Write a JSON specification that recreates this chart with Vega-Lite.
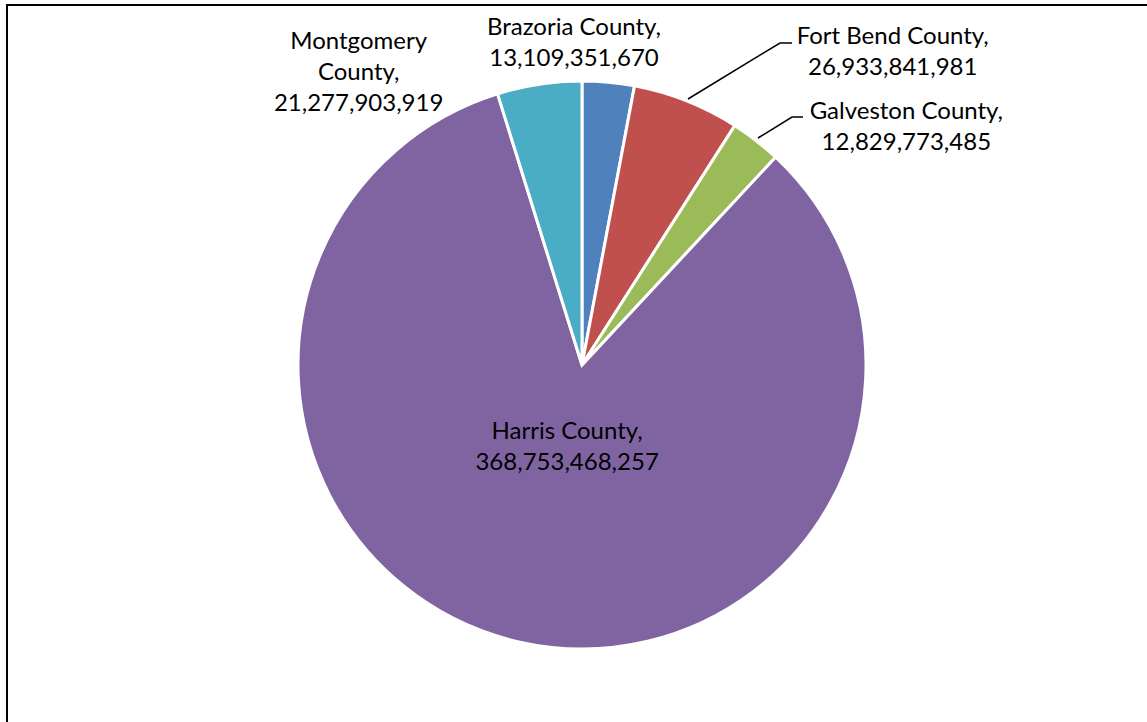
{
  "$schema": "https://vega.github.io/schema/vega-lite/v6.json",
  "width": 1150,
  "height": 720,
  "autosize": {"type": "none"},
  "padding": {"left": 7, "top": 5, "right": -10, "bottom": -3},
  "background": "white",
  "view": {"stroke": "black", "strokeWidth": 2, "fill": null},
  "config": {
    "view": {"stroke": "black", "strokeWidth": 2},
    "text": {"font": "Lato", "fontSize": 24, "lineHeight": 31, "align": "center", "baseline": "middle", "fill": "black"}
  },
  "data": {
    "values": [
      {"county": "Brazoria County", "value": 13109351670, "label": ["Brazoria County,", "13,109,351,670"]},
      {"county": "Fort Bend County", "value": 26933841981, "label": ["Fort Bend County,", "26,933,841,981"]},
      {"county": "Galveston County", "value": 12829773485, "label": ["Galveston County,", "12,829,773,485"]},
      {"county": "Harris County", "value": 368753468257, "label": ["Harris County,", "368,753,468,257"]},
      {"county": "Montgomery County", "value": 21277903919, "label": ["Montgomery", "County,", "21,277,903,919"]}
    ]
  },
  "encoding": {
    "theta": {"field": "value", "type": "quantitative", "stack": true},
    "detail": {"field": "county", "type": "nominal"}
  },
  "layer": [
    {
      "mark": {"type": "arc", "outerRadius": 284, "stroke": "white", "strokeWidth": 3},
      "encoding": {
        "color": {
          "field": "county",
          "type": "nominal",
          "scale": {
            "domain": ["Brazoria County", "Fort Bend County", "Galveston County", "Harris County", "Montgomery County"],
            "range": ["#4F81BD", "#C0504D", "#9BBB59", "#8064A2", "#4BACC6"]
          },
          "legend": null
        }
      }
    },
    {
      "transform": [{"filter": "datum.county == 'Harris County'"}],
      "mark": {
        "type": "point",
        "shape": "M1.06,-2.66L1.98,-3.22L2.10,-3.22M1.76,-2.27L2.10,-2.48L2.21,-2.48",
        "size": 40000,
        "filled": false,
        "stroke": "black",
        "strokeWidth": 1.5,
        "opacity": 1
      },
      "encoding": {"theta": null, "detail": null}
    },
    {
      "mark": {"type": "text", "radius": 323, "dx": -38, "dy": -15.5},
      "encoding": {"text": {"condition": {"test": "datum.county == 'Brazoria County'", "field": "label", "type": "nominal"}, "value": ""}}
    },
    {
      "mark": {"type": "text", "radius": 336, "dx": 187, "dy": -15.5},
      "encoding": {"text": {"condition": {"test": "datum.county == 'Fort Bend County'", "field": "label", "type": "nominal"}, "value": ""}}
    },
    {
      "mark": {"type": "text", "radius": 301, "dx": 140, "dy": -15.5},
      "encoding": {"text": {"condition": {"test": "datum.county == 'Galveston County'", "field": "label", "type": "nominal"}, "value": ""}}
    },
    {
      "mark": {"type": "text", "radius": 85, "dx": 4, "dy": -15.5},
      "encoding": {"text": {"condition": {"test": "datum.county == 'Harris County'", "field": "label", "type": "nominal"}, "value": ""}}
    },
    {
      "mark": {"type": "text", "radius": 295, "dx": -179, "dy": -31},
      "encoding": {"text": {"condition": {"test": "datum.county == 'Montgomery County'", "field": "label", "type": "nominal"}, "value": ""}}
    }
  ]
}
